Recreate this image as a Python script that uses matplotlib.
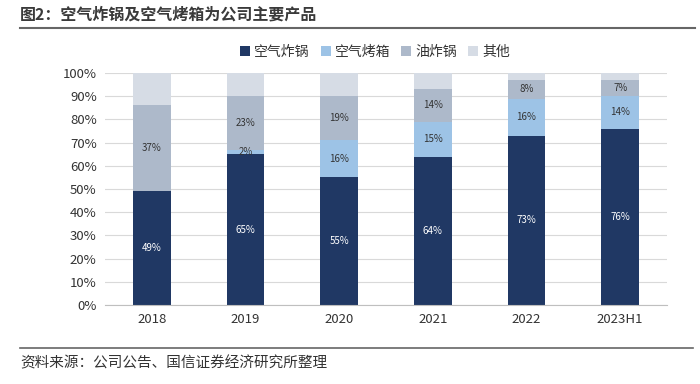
import matplotlib
matplotlib.use("Agg")
import matplotlib.pyplot as plt
from matplotlib.lines import Line2D
import numpy as np

plt.rcParams['font.family'] = ['Noto Sans CJK SC', 'DejaVu Sans']

years = ["2018", "2019", "2020", "2021", "2022", "2023H1"]
series_names = ["空气炸锅", "空气烤箱", "油炸锅", "其他"]
air_fryer = [49, 65, 55, 64, 73, 76]
air_oven = [0, 2, 16, 15, 16, 14]
oil_fryer = [37, 23, 19, 14, 8, 7]
others = [14, 10, 10, 7, 3, 3]

colors = ["#203864", "#9DC3E6", "#ADB9CA", "#D6DCE5"]
label_colors = ["white", "#333333", "#333333", None]

fig = plt.figure(figsize=(7, 3.84), dpi=100)
ax = fig.add_axes([105 / 700, 1 - 305 / 384, 562 / 700, 232 / 384])

x = np.arange(len(years))
bottom = np.zeros(len(years))
data = [air_fryer, air_oven, oil_fryer, others]
for vals, name, c, lc in zip(data, series_names, colors, label_colors):
    v = np.array(vals) / 100.0
    ax.bar(x, v, 0.4, bottom=bottom, color=c, label=name, zorder=2)
    if lc is not None:
        for xi, b, h, raw in zip(x, bottom, v, vals):
            if raw > 0:
                ax.text(xi, b + h / 2, "{}%".format(raw), ha="center", va="center",
                        fontsize=7, color=lc, zorder=3)
    bottom += v

ax.set_ylim(0, 1)
ax.set_xlim(-0.5, len(years) - 0.5)
ticks = np.arange(0, 1.01, 0.1)
ax.set_yticks(ticks)
ax.set_yticklabels(["{}%".format(int(round(t * 100))) for t in ticks],
                   fontsize=9.5, color="#333333")
ax.set_xticks(x)
ax.set_xticklabels(years, fontsize=9.5, color="#333333")
ax.tick_params(length=0, pad=6)
ax.yaxis.grid(True, color="#D9D9D9", lw=0.8, zorder=0)
ax.set_axisbelow(True)
for s in ["top", "right", "left"]:
    ax.spines[s].set_visible(False)
ax.spines["bottom"].set_color("#BFBFBF")

fig.legend(loc="center", bbox_to_anchor=(375 / 700, 1 - 52 / 384), ncol=4, frameon=False,
           fontsize=10, handlelength=0.7, handleheight=0.7, handletextpad=0.3,
           columnspacing=0.8, labelcolor="#333333")

fig.text(20 / 700, 1 - 15 / 384, "图2：空气炸锅及空气烤箱为公司主要产品", fontsize=11.5,
         fontweight="bold", color="#3a3a3a", ha="left", va="center")
fig.add_artist(Line2D([20 / 700, 695 / 700], [1 - 28 / 384] * 2, color="#666666", lw=1.5))
fig.add_artist(Line2D([20 / 700, 693 / 700], [1 - 348 / 384] * 2, color="#666666", lw=1.2))
fig.text(20 / 700, 1 - 363 / 384, "资料来源：公司公告、国信证券经济研究所整理", fontsize=10.5,
         color="#333333", ha="left", va="center")

fig.savefig("out.png", dpi=100)
